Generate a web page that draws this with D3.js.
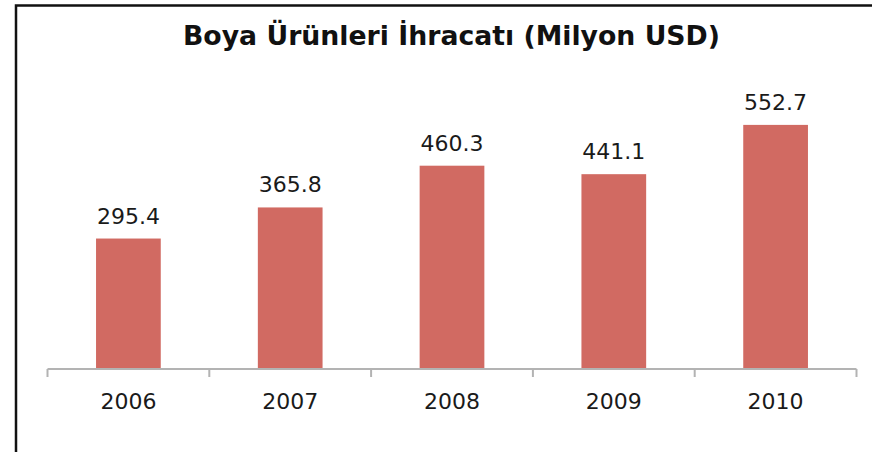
<!DOCTYPE html>
<html>
<head>
<meta charset="utf-8">
<title>Boya Ürünleri İhracatı</title>
<script src="https://d3js.org/d3.v7.min.js"></script>
<style>
  html, body { margin: 0; padding: 0; background: #fff; }
  svg { display: block; }
</style>
</head>
<body>
<svg width="872" height="452"></svg>
<script>
const years = ["2006", "2007", "2008", "2009", "2010"];
const values = [295.4, 365.8, 460.3, 441.1, 552.7];
const title = "Boya Ürünleri İhracatı (Milyon USD)";

const svg = d3.select("svg");

// frame (left + top border)
svg.append("path")
  .attr("d", "M16,452 V5.5 H872")
  .attr("fill", "none")
  .attr("stroke", "#111")
  .attr("stroke-width", 2.5);

const x = d3.scaleBand()
  .domain(years)
  .range([47.5, 856.5])
  .paddingInner(0.6)
  .paddingOuter(0.3);

const y = d3.scaleLinear()
  .domain([0, 600])
  .range([369, 104]);

// bars
svg.selectAll("rect.bar")
  .data(values)
  .enter()
  .append("rect")
  .attr("class", "bar")
  .attr("x", (d, i) => x(years[i]))
  .attr("y", d => y(d))
  .attr("width", x.bandwidth())
  .attr("height", d => y(0) - y(d))
  .attr("fill", "#d16a62");

// value labels
svg.selectAll("text.val")
  .data(values)
  .enter()
  .append("text")
  .attr("class", "val")
  .attr("x", (d, i) => x(years[i]) + x.bandwidth() / 2)
  .attr("y", d => y(d) - 15)
  .attr("text-anchor", "middle")
  .attr("font-family", "DejaVu Sans")
  .attr("font-size", 22)
  .attr("fill", "#1a1a1a")
  .text(d => d.toFixed(1));

// x axis
const xAxis = svg.append("g")
  .attr("transform", "translate(0,369)");

const step = x.step();
const edges = d3.range(years.length + 1).map(i => 47.5 + i * step);

xAxis.append("line")
  .attr("x1", edges[0]).attr("x2", edges[edges.length - 1])
  .attr("y1", 0).attr("y2", 0)
  .attr("stroke", "#b3b3b3").attr("stroke-width", 2);

xAxis.selectAll("line.tick")
  .data(edges)
  .enter()
  .append("line")
  .attr("class", "tick")
  .attr("x1", d => d).attr("x2", d => d)
  .attr("y1", 0).attr("y2", 8)
  .attr("stroke", "#b3b3b3").attr("stroke-width", 2);

xAxis.selectAll("text")
  .data(years)
  .enter()
  .append("text")
  .attr("x", d => x(d) + x.bandwidth() / 2)
  .attr("y", 40)
  .attr("text-anchor", "middle")
  .attr("font-family", "DejaVu Sans")
  .attr("font-size", 22)
  .attr("fill", "#1a1a1a")
  .text(d => d);

// title
svg.append("text")
  .attr("x", 451.5)
  .attr("y", 45)
  .attr("text-anchor", "middle")
  .attr("font-family", "DejaVu Sans")
  .attr("font-weight", "bold")
  .attr("font-size", 27)
  .attr("textLength", 537)
  .attr("lengthAdjust", "spacingAndGlyphs")
  .attr("fill", "#111")
  .text(title);
</script>
</body>
</html>
